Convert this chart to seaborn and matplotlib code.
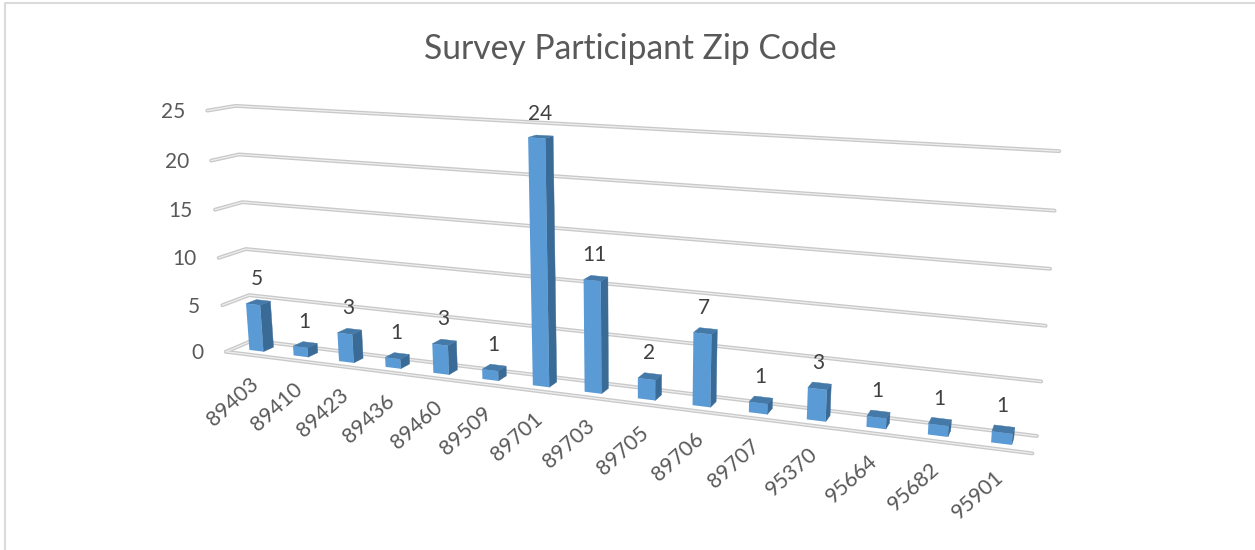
import matplotlib
matplotlib.use('Agg')
import matplotlib.pyplot as plt
import numpy as np
import seaborn as sns
from matplotlib.transforms import Affine2D, Transform

sns.set_style('white')
plt.rcParams['font.family'] = ['Lato', 'DejaVu Sans']

zips = ['89403', '89410', '89423', '89436', '89460', '89509', '89701', '89703',
        '89705', '89706', '89707', '95370', '95664', '95682', '95901']
counts = [5, 1, 3, 1, 3, 1, 24, 11, 2, 7, 1, 3, 1, 1, 1]
y_ticks = [0, 5, 10, 15, 20, 25]
title = 'Survey Participant Zip Code'

W, H = 1255, 550
X0, X1 = -0.5, 14.5
BAR_W = 0.32
Z_FRONT, Z_BACK = 0.68, 0.29

# (x, value, depth) -> pixel position of the box corners in the picture, depth 0 is back wall
calib = [
    (X0, 25, 0, 237, 105), (X1, 25, 0, 1060, 152),
    (X0, 10, 0, 245, 248), (X1, 10, 0, 1045, 326),
    (X0, 0, 0, 252, 342), (X1, 0, 0, 1037, 435),
    (X0, 25, 1, 207, 111), (X0, 10, 1, 218, 257),
    (X0, 0, 1, 227, 352), (X1, 0, 1, 1033, 453),
    (-0.16, 0, Z_FRONT, 250, 350), (5.84, 0, Z_FRONT, 532, 385),
    (5.84, 24, Z_FRONT, 527, 138), (8.84, 0, Z_FRONT, 693, 406),
    (13.84, 0, Z_FRONT, 991, 442),
]


def fit_camera(points):
    rows = []
    for x, y, z, u, v in points:
        u, v = u / 1000, v / 1000
        p = [x / 10, y / 10, z, 1]
        rows.append(p + [0, 0, 0, 0] + [-u * c for c in p])
        rows.append([0, 0, 0, 0] + p + [-v * c for c in p])
    return np.linalg.svd(np.array(rows))[2][-1].reshape(3, 4)


cam = fit_camera(calib)


def project(x, y, z):
    x, y = np.asarray(x, float), np.asarray(y, float)
    p = np.stack([x / 10, y / 10, np.full_like(x, z), np.ones_like(x)])
    q = cam @ p
    return q[0] / q[2] * 1000, q[1] / q[2] * 1000


class DepthTransform(Transform):
    input_dims = 2
    output_dims = 2

    def __init__(self, z):
        super().__init__()
        self.z = z

    def transform_non_affine(self, values):
        values = np.asarray(values, float)
        u, v = project(values[:, 0], values[:, 1], self.z)
        return np.column_stack([u, H - v])


fig = plt.figure(figsize=(W / 100, H / 100), dpi=100)
ax = fig.add_axes([0, 0, 1, 1])
pix = Affine2D().scale(1, -1).translate(0, H)


def grid_line(us, vs):
    ax.plot(us, vs, color='#c9c9c9', lw=2.8, transform=pix, zorder=1, solid_capstyle='round')
    ax.plot(us, vs, color='#eeeeee', lw=0.9, transform=pix, zorder=1.1)


# walls and floor
for v in y_ticks:
    ul, vl = project([X0], [v], 1)
    ub, vb = project([X0, X1], [v, v], 0)
    grid_line([ul[0], ub[0], ub[1]], [vl[0], vb[0], vb[1]])
    ax.text(ul[0] - 22, vl[0] + 1.5, str(v), transform=pix, ha='right', va='center',
            fontsize=15, color='#595959')
uf, vf = project([X0, X1], [0, 0], 1)
grid_line(uf, vf)

# front faces of the bars
sns.barplot(x=zips, y=counts, width=BAR_W, color='#5b9bd5', saturation=1, ax=ax, zorder=3)
bars = list(ax.patches)
front = DepthTransform(Z_FRONT)
for bar in bars:
    bar.set_transform(front)
    bar.set_clip_on(False)
    bar.set_linewidth(0)

# sides, tops, labels worked out from each bar
for i, bar in enumerate(bars):
    xl = bar.get_x()
    xr = xl + bar.get_width()
    top = bar.get_height()
    us, vs = [], []
    for x, y, z in [(xr, 0, Z_FRONT), (xr, top, Z_FRONT), (xr, top, Z_BACK), (xr, 0, Z_BACK)]:
        u, v = project([x], [y], z)
        us.append(u[0])
        vs.append(v[0])
    ax.fill(us, vs, color='#3a6b97', transform=pix, zorder=2.9, lw=0.3)
    us, vs = [], []
    for x, z in [(xl, Z_FRONT), (xr, Z_FRONT), (xr, Z_BACK), (xl, Z_BACK)]:
        u, v = project([x], [top], z)
        us.append(u[0])
        vs.append(v[0])
    ax.fill(us, vs, color='#4579a8', transform=pix, zorder=2.9, lw=0.3)

    xc = xl + bar.get_width() / 2
    zc = (Z_FRONT + Z_BACK) / 2
    u, v = project([xc], [top], zc)
    ax.text(u[0] - 1, v[0] - 23, str(counts[i]), transform=pix, ha='center', va='center',
            fontsize=15, color='#404040', zorder=4)
    u, v = project([xc], [0], Z_FRONT)
    ax.text(u[0] - 24, v[0] + 51, zips[i], transform=pix, ha='center', va='center',
            rotation=42, rotation_mode='anchor', fontsize=15.3, color='#595959')

ax.text(630, 49, title, transform=pix, ha='center', va='center', fontsize=24.2, color='#595959')

# chart border, only left and top show in the picture
ax.plot([5, 5, W], [H, 2.5, 2.5], color='#dadada', lw=1.5, transform=pix, clip_on=False)

ax.set_xlim(X0, X1)
ax.set_ylim(0, 25)
ax.axis('off')
fig.savefig('out.png', dpi=100, facecolor='white')
